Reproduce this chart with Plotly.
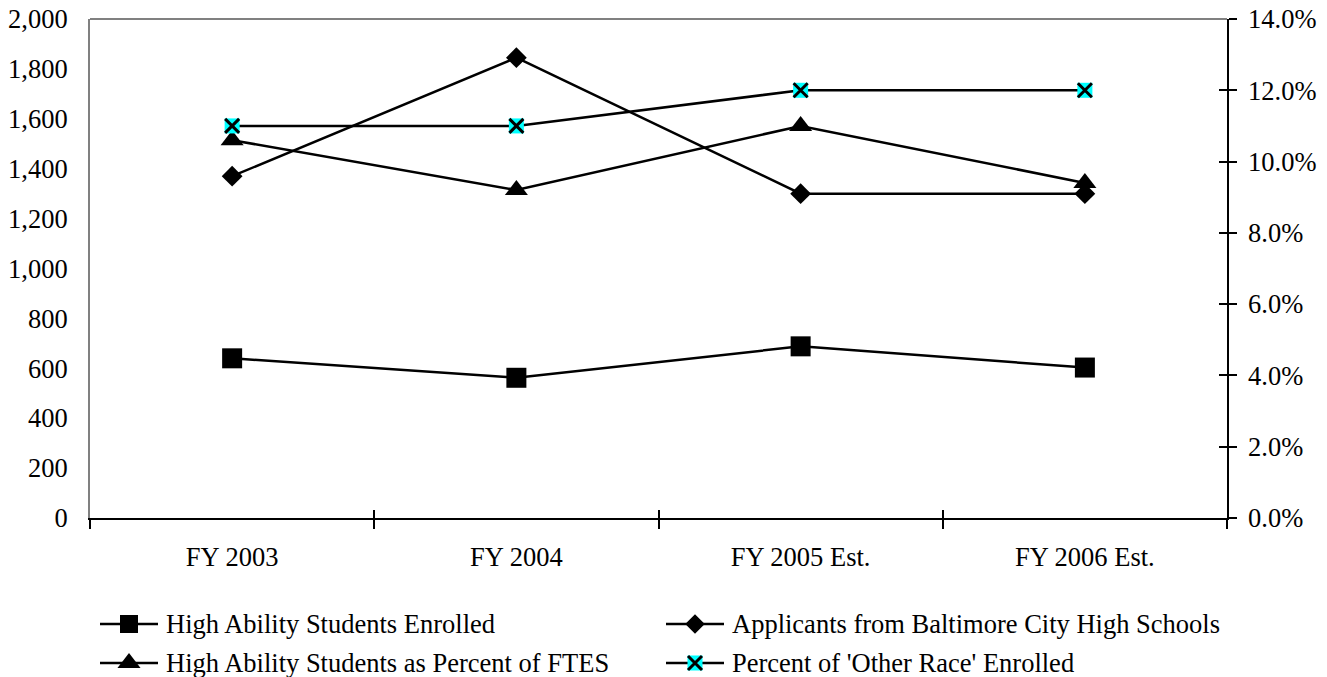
import plotly.graph_objects as go

# Fiscal years shown on the category axis
years = ["FY 2003", "FY 2004", "FY 2005 Est.", "FY 2006 Est."]

# Counts (left axis)
high_ability_enrolled = [640, 562, 688, 603]
baltimore_applicants = [1370, 1845, 1300, 1300]

# Percentages (right axis)
high_ability_pct_ftes = [0.106, 0.092, 0.110, 0.094]
other_race_pct = [0.110, 0.110, 0.120, 0.120]

series_names = [
    "High Ability Students Enrolled",
    "Applicants from Baltimore City High Schools",
    "High Ability Students as Percent of FTES",
    "Percent of 'Other Race' Enrolled",
]

W, H = 1327, 677
FONT = "Liberation Serif, Times New Roman, serif"
FS = 26.5
LINE = dict(color="black", width=2.5)

# Plot-area placement in pixels
PX0, PX1 = 90, 1227
PY_TOP, PY_BOT = 19, 518

fig = go.Figure()

# Legend drawn first, on a pixel-scaled overlay axis spanning the whole figure
leg_items = [
    (100, 624, dict(symbol="square", size=18, color="black"), None),
    (666, 624, dict(symbol="diamond", size=15, color="black"), None),
    (100, 663, dict(symbol="triangle-up", size=20, color="black"), None),
    (666, 663, dict(symbol="square", size=15, color="#00FFFF"),
     dict(symbol="x-thin", size=14, line=dict(color="black", width=3))),
]
for (lx, ly, mk, overlay), name in zip(leg_items, series_names):
    fig.add_trace(go.Scatter(
        x=[lx, lx + 58], y=[ly, ly], mode="lines", line=LINE,
        xaxis="x4", yaxis="y4", showlegend=False, hoverinfo="skip"))
    fig.add_trace(go.Scatter(
        x=[lx + 29], y=[ly], mode="markers", marker=mk,
        xaxis="x4", yaxis="y4", showlegend=False, hoverinfo="skip"))
    if overlay:
        fig.add_trace(go.Scatter(
            x=[lx + 29], y=[ly], mode="markers", marker=overlay,
            xaxis="x4", yaxis="y4", showlegend=False, hoverinfo="skip"))
    fig.add_annotation(x=lx + 64, y=ly, xref="x4", yref="y4", text=name,
                       showarrow=False, xanchor="left", yanchor="middle",
                       font=dict(family=FONT, size=FS, color="black"))

fig.add_trace(go.Scatter(
    x=years, y=high_ability_enrolled, mode="lines+markers", line=LINE,
    marker=dict(symbol="square", size=20, color="black"),
    xaxis="x", yaxis="y", showlegend=False))
fig.add_trace(go.Scatter(
    x=years, y=baltimore_applicants, mode="lines+markers", line=LINE,
    marker=dict(symbol="diamond", size=16, color="black"),
    xaxis="x", yaxis="y", showlegend=False))
fig.add_trace(go.Scatter(
    x=years, y=high_ability_pct_ftes, mode="lines+markers", line=LINE,
    marker=dict(symbol="triangle-up", size=20, color="black"),
    xaxis="x", yaxis="y2", showlegend=False))
fig.add_trace(go.Scatter(
    x=years, y=other_race_pct, mode="lines+markers", line=LINE,
    marker=dict(symbol="square", size=15, color="#00FFFF"),
    xaxis="x", yaxis="y2", showlegend=False))
fig.add_trace(go.Scatter(
    x=years, y=other_race_pct, mode="markers",
    marker=dict(symbol="x-thin", size=14, line=dict(color="black", width=3)),
    xaxis="x", yaxis="y2", showlegend=False))

# Invisible trace so the inside-tick overlays get rendered
fig.add_trace(go.Scatter(x=[years[0]], y=[0], xaxis="x2", yaxis="y3",
                         mode="markers", marker=dict(opacity=0),
                         showlegend=False, hoverinfo="skip"))

xdom = [PX0 / W, PX1 / W]
ydom = [(H - PY_BOT) / H, (H - PY_TOP) / H]

fig.update_layout(
    width=W, height=H,
    margin=dict(l=0, r=0, t=0, b=0, pad=0),
    paper_bgcolor="white", plot_bgcolor="rgba(0,0,0,0)",
    font=dict(family=FONT, size=FS, color="black"),
    showlegend=False,
    xaxis=dict(
        domain=xdom, type="category", categoryorder="array", categoryarray=years,
        range=[-0.5, 3.5], tickson="boundaries", ticks="outside", ticklen=9,
        tickcolor="black", tickwidth=1.5, showline=True, linecolor="black",
        linewidth=1.5, showgrid=False, zeroline=False, ticklabelstandoff=14,
        anchor="y", automargin=False),
    xaxis2=dict(
        domain=xdom, type="category", categoryorder="array", categoryarray=years,
        range=[-0.5, 3.5], tickson="boundaries", ticks="inside", ticklen=8,
        tickcolor="black", tickwidth=1.5, showticklabels=False, showline=False,
        showgrid=False, zeroline=False, overlaying="x", anchor="y",
        automargin=False),
    yaxis=dict(
        domain=ydom, range=[0, 2000], dtick=200, tickformat=",",
        showline=True, linecolor="#808080", linewidth=2, ticks="",
        showgrid=False, zeroline=False, ticklabelstandoff=15, anchor="x",
        automargin=False),
    yaxis2=dict(
        domain=ydom, range=[0, 0.14], dtick=0.02, tickformat=".1%",
        overlaying="y", side="right", anchor="x",
        showline=True, linecolor="black", linewidth=1.5,
        ticks="outside", ticklen=8, tickcolor="black", tickwidth=1.5,
        showgrid=False, zeroline=False, ticklabelstandoff=6, automargin=False),
    yaxis3=dict(
        domain=ydom, range=[0, 0.14], dtick=0.02, overlaying="y", side="right",
        anchor="x", showline=False, ticks="inside", ticklen=8,
        tickcolor="black", tickwidth=1.5, showticklabels=False,
        showgrid=False, zeroline=False, automargin=False),
    xaxis4=dict(domain=[0, 1], range=[0, W], visible=False, anchor="y4",
                fixedrange=True, automargin=False),
    yaxis4=dict(domain=[0, 1], range=[H, 0], visible=False, anchor="x4",
                fixedrange=True, automargin=False),
    shapes=[dict(type="line", xref="paper", yref="paper",
                 x0=xdom[0], x1=xdom[1], y0=ydom[1], y1=ydom[1],
                 line=dict(color="#808080", width=2))],
)

fig.write_html("out.html")
